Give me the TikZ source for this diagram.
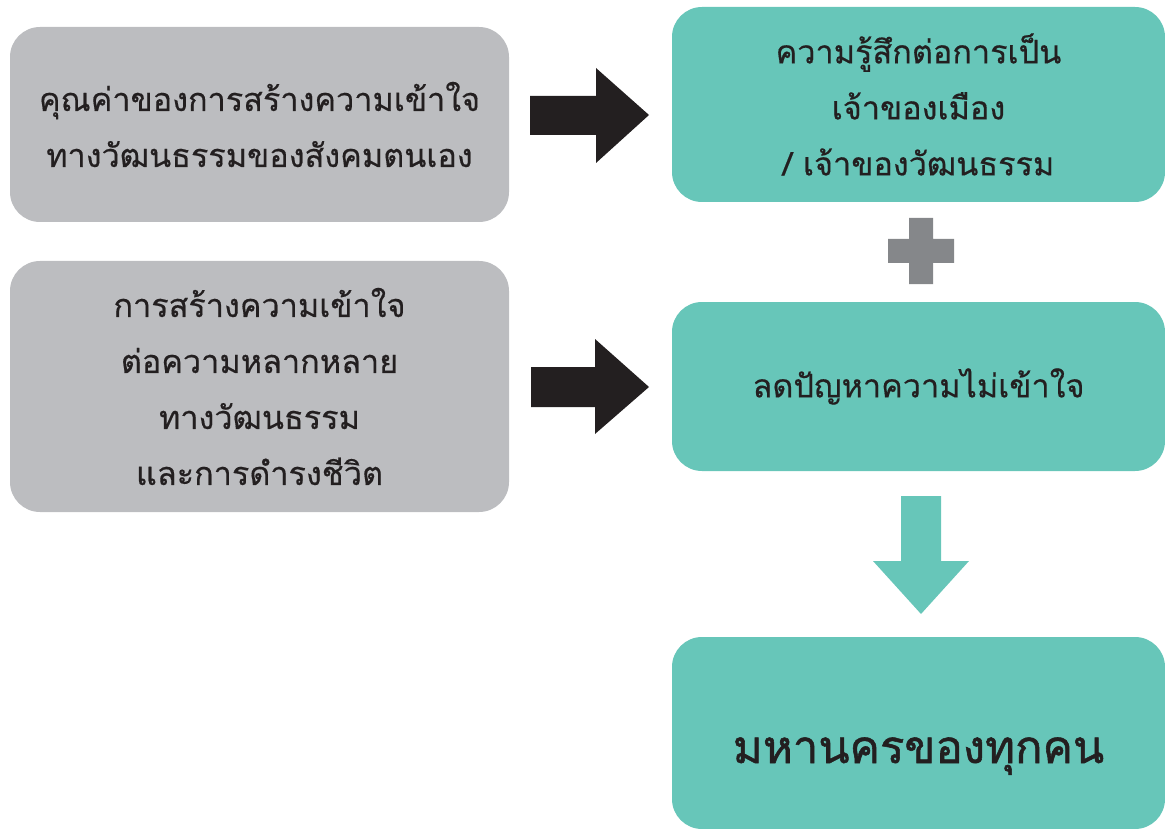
\documentclass[tikz,border=0pt]{standalone}
\usepackage{fontspec}
\newfontfamily\thaifont[Script=Thai,FakeBold=0.4]{Loma}
\newfontfamily\thaibold[Script=Thai,FakeBold=1.2]{Loma}
\definecolor{boxgray}{HTML}{BCBDC0}
\definecolor{boxteal}{HTML}{67C6B9}
\definecolor{arrowblack}{HTML}{231F20}
\definecolor{plusgray}{HTML}{85878A}
\definecolor{txt}{HTML}{231F20}
\tikzset{
  panel/.style={rounded corners=30pt, inner sep=0pt, outer sep=0pt, align=center, text=txt,
    font=\thaifont\fontsize{32.4}{56}\selectfont},
  graypanel/.style={panel, fill=boxgray},
  tealpanel/.style={panel, fill=boxteal},
  blockarrow/.style={fill=arrowblack, draw=none},
}
\begin{document}
\begin{tikzpicture}[x=1pt,y=-1pt]
\useasboundingbox (0,0) rectangle (1165,829);
% left gray boxes
\node[graypanel, minimum width=499pt, minimum height=195pt] (a) at (259.5,124.5)
  {คุณค่าของการสร้างความเข้าใจ\\ทางวัฒนธรรมของสังคมตนเอง};
\node[graypanel, minimum width=499pt, minimum height=251pt] (b) at (259.5,386.5)
  {การสร้างความเข้าใจ\\ต่อความหลากหลาย\\ทางวัฒนธรรม\\และการดำรงชีวิต};
% right teal boxes
\node[tealpanel, minimum width=493pt, minimum height=195pt] (c) at (918.5,104.5)
  {ความรู้สึกต่อการเป็น\\เจ้าของเมือง\\/ เจ้าของวัฒนธรรม};
\node[tealpanel, minimum width=493pt, minimum height=169pt] (d) at (918.5,386.5)
  {ลดปัญหาความไม่เข้าใจ};
\node[tealpanel, minimum width=493pt, minimum height=192pt, font=\thaibold\fontsize{45.5}{56}\selectfont] (e) at (918.5,733)
  {\raisebox{-30pt}[0pt][0pt]{มหานครของทุกคน}};
% black block arrows
\fill[blockarrow] (530,96) -- (596,96) -- (596,68) -- (649,115) -- (596,163) -- (596,135) -- (530,135) -- cycle;
\fill[blockarrow] (531,367) -- (595,367) -- (595,339) -- (649,387) -- (595,434) -- (595,407) -- (531,407) -- cycle;
% plus sign
\fill[plusgray] (909,218) -- (933,218) -- (933,239) -- (954,239) -- (954,263) -- (933,263) -- (933,284)
  -- (909,284) -- (909,263) -- (888,263) -- (888,239) -- (909,239) -- cycle;
% teal down arrow
\fill[boxteal] (901,496) -- (941,496) -- (941,561) -- (969,561) -- (921,614) -- (873,561) -- (901,561) -- cycle;
\end{tikzpicture}
\end{document}
